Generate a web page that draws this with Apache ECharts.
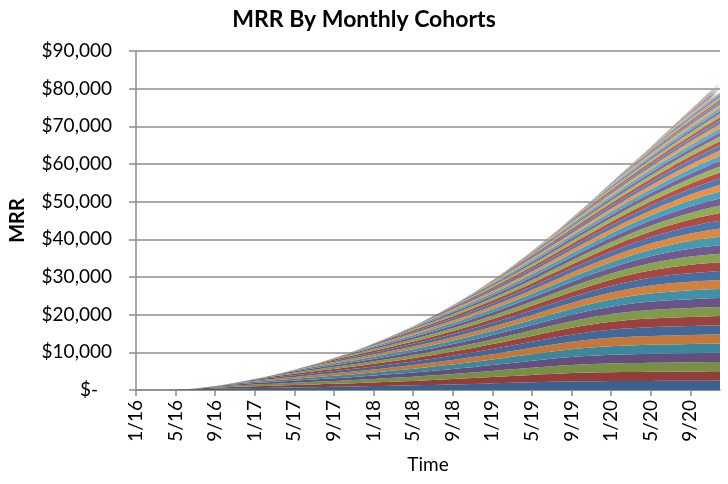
<!DOCTYPE html>
<html>
<head>
<meta charset="utf-8">
<script src="https://cdn.jsdelivr.net/npm/echarts@6/dist/echarts.min.js"></script>
<style>html,body{margin:0;padding:0;background:#fff}#c{width:728px;height:484px}</style>
</head>
<body>
<div id="c"></div>
<script>
// Months on the time axis (1/16 .. 12/20)
const months = [
  "1/16","2/16","3/16","4/16","5/16","6/16","7/16","8/16","9/16","10/16","11/16","12/16",
  "1/17","2/17","3/17","4/17","5/17","6/17","7/17","8/17","9/17","10/17","11/17","12/17",
  "1/18","2/18","3/18","4/18","5/18","6/18","7/18","8/18","9/18","10/18","11/18","12/18",
  "1/19","2/19","3/19","4/19","5/19","6/19","7/19","8/19","9/19","10/19","11/19","12/19",
  "1/20","2/20","3/20","4/20","5/20","6/20","7/20","8/20","9/20","10/20","11/20","12/20"
];
// Monthly cohorts start at 5/16
const firstCohortIndex = 4;
const cohorts = months.slice(firstCohortIndex);
// MRR of a typical cohort by age in months (read from band thickness)
const cohortMrrByAge = [
  60, 140, 220, 290, 350, 400, 440, 480, 520, 560,
  600, 640, 680, 720, 760, 800, 840, 880, 930, 980,
  1030, 1080, 1130, 1180, 1240, 1300, 1360, 1420, 1480, 1550,
  1620, 1690, 1760, 1830, 1900, 1970, 2040, 2110, 2170, 2220,
  2270, 2300, 2330, 2350, 2370, 2390, 2400, 2410, 2420, 2430,
  2440, 2450, 2460, 2470, 2480, 2490
];
const yTicks = [0, 10000, 20000, 30000, 40000, 50000, 60000, 70000, 80000, 90000];

const basePalette = ["#4F81BD", "#C0504D", "#9BBB59", "#8064A2", "#4BACC6", "#F79646"];
function shade(hex, f) {
  const n = parseInt(hex.slice(1), 16);
  let r = (n >> 16) & 255, g = (n >> 8) & 255, b = n & 255;
  const m = c => f < 0 ? Math.round(c * (1 + f)) : Math.round(c + (255 - c) * f);
  return "rgb(" + m(r) + "," + m(g) + "," + m(b) + ")";
}

const FONT = "Lato";
const series = cohorts.map((name, c) => {
  const start = firstCohortIndex + c;
  const data = months.map((m, t) => t < start ? 0 : cohortMrrByAge[t - start]);
  const f = -0.25 + 0.5 * c / (cohorts.length - 1);
  const col = shade(basePalette[c % 6], f);
  return {
    name: name,
    type: "line",
    stack: "mrr",
    data: data,
    symbol: "none",
    lineStyle: { width: 0 },
    areaStyle: { opacity: 1, color: col },
    itemStyle: { color: col },
    silent: true
  };
});

const chart = echarts.init(document.getElementById("c"));
chart.setOption({
  animation: false,
  title: {
    text: "MRR By Monthly Cohorts",
    left: "center",
    top: 3,
    textStyle: { fontFamily: FONT, fontWeight: "bold", fontSize: 23, color: "#000" }
  },
  grid: { left: 136, right: 8, top: 51, bottom: 94, containLabel: false },
  xAxis: {
    type: "category",
    data: months,
    boundaryGap: false,
    name: "Time",
    nameLocation: "middle",
    nameGap: 65,
    nameTextStyle: { fontFamily: FONT, fontSize: 19, color: "#000" },
    axisLine: { lineStyle: { color: "#8c8c8c", width: 1.5 } },
    axisTick: { interval: 3, length: 6, lineStyle: { color: "#8c8c8c", width: 1.5 } },
    axisLabel: { interval: 3, rotate: 90, margin: 10, fontFamily: FONT, fontSize: 19, color: "#000" },
    splitLine: { show: false }
  },
  yAxis: {
    type: "value",
    min: yTicks[0],
    max: yTicks[yTicks.length - 1],
    interval: 10000,
    name: "MRR",
    nameLocation: "middle",
    nameGap: 108,
    nameRotate: 90,
    nameTextStyle: { fontFamily: FONT, fontWeight: "bold", fontSize: 20, color: "#000" },
    axisLine: { show: true, lineStyle: { color: "#8c8c8c", width: 1.5 } },
    axisTick: { show: true, length: 7, lineStyle: { color: "#8c8c8c", width: 1.5 } },
    axisLabel: {
      margin: 24,
      fontFamily: FONT, fontSize: 19, color: "#000",
      formatter: v => v === 0 ? "{z|$-}" : "$" + v.toLocaleString("en-US"),
      rich: { z: { fontFamily: FONT, fontSize: 19, color: "#000", padding: [0, 14, 0, 0] } }
    },
    splitLine: { lineStyle: { color: "#8c8c8c", width: 1.5 } }
  },
  series: series
});
</script>
</body>
</html>
